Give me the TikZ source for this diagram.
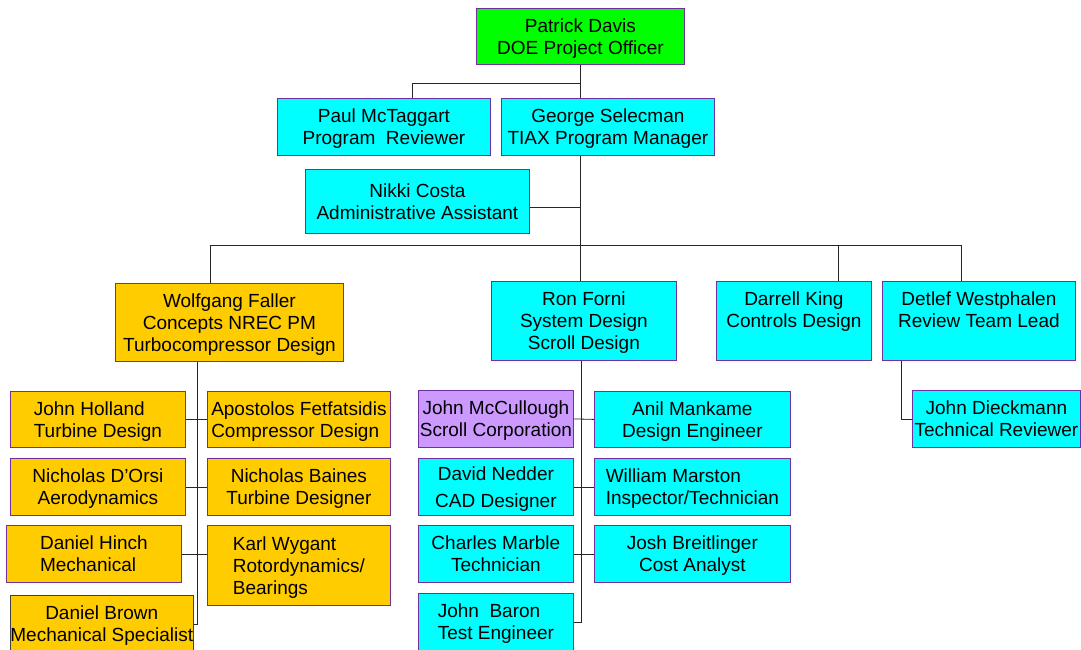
\documentclass[tikz,border=0pt]{standalone}
\usepackage{fontspec}
\setmainfont{Liberation Sans}
\definecolor{boxline}{RGB}{112,48,160}
\definecolor{doegreen}{RGB}{0,255,0}
\definecolor{tiaxcyan}{RGB}{0,255,255}
\definecolor{nrecgold}{RGB}{255,204,0}
\definecolor{scrollviolet}{RGB}{204,153,255}
\tikzset{
  orgbox/.style={draw=boxline, line width=0.8pt, inner sep=0pt, anchor=north west,
    align=center, font=\fontsize{19}{22}\selectfont, text depth=-4pt},
  doebox/.style={orgbox, fill=doegreen},
  tiaxbox/.style={orgbox, fill=tiaxcyan},
  nrecbox/.style={orgbox, fill=nrecgold},
  scrollbox/.style={orgbox, fill=scrollviolet},
  link/.style={draw=black!85, line width=0.8pt},
}
\begin{document}
\begin{tikzpicture}[x=1pt, y=-1pt]
    \useasboundingbox (0,0) rectangle (1081,650);
    % management
    \node[doebox, text depth=-8pt, minimum width=208pt, minimum height=56pt] (pd) at (476,8) {Patrick Davis\\DOE Project Officer};
    \node[tiaxbox, minimum width=213pt, minimum height=57pt] (pm) at (277,98) {Paul McTaggart\\Program\ \ Reviewer};
    \node[tiaxbox, minimum width=213pt, minimum height=57pt] (gs) at (501,98) {George Selecman\\TIAX Program Manager};
    \node[tiaxbox, minimum width=224pt, minimum height=64pt] (nc) at (305,169) {Nikki Costa\\Administrative Assistant};
    % team leads
    \node[nrecbox, minimum width=228pt, minimum height=78pt] (wf) at (115,283) {Wolfgang Faller\\Concepts NREC PM\\Turbocompressor Design};
    \node[tiaxbox, minimum width=185pt, minimum height=79pt] (rf) at (491,281) {Ron Forni\\System Design\\Scroll Design};
    \node[tiaxbox, minimum width=155pt, minimum height=79pt] (dk) at (716,281) {Darrell King\\Controls Design\\\mbox{}};
    \node[tiaxbox, minimum width=193pt, minimum height=79pt] (dw) at (882,281) {Detlef Westphalen\\Review Team Lead\\\mbox{}};
    % Concepts NREC group
    \node[nrecbox, align=left, minimum width=175pt, minimum height=56pt] (jh) at (10,391) {John Holland\\Turbine Design};
    \node[nrecbox, align=left, minimum width=183pt, minimum height=56pt] (af) at (207,391) {Apostolos Fetfatsidis\\Compressor Design};
    \node[nrecbox, minimum width=175pt, minimum height=57pt] (nd) at (10,458) {Nicholas D'Orsi\\Aerodynamics};
    \node[nrecbox, minimum width=183pt, minimum height=57pt] (nb) at (207,458) {Nicholas Baines\\Turbine Designer};
    \node[nrecbox, align=left, minimum width=175pt, minimum height=57pt] (dh) at (6,525) {Daniel Hinch\\Mechanical};
    \node[nrecbox, align=left, minimum width=183pt, minimum height=80pt] (kw) at (207,525) {Karl Wygant\\Rotordynamics/\\Bearings};
    \node[nrecbox, draw=black!75, minimum width=181pt, minimum height=57pt] (db) at (10,595) {Daniel Brown\\Mechanical Specialist};
    % TIAX group
    \node[scrollbox, minimum width=155pt, minimum height=57pt] (jm) at (418,390) {John McCullough\\Scroll Corporation};
    \node[tiaxbox, minimum width=196pt, minimum height=56pt] (am) at (594,391) {Anil Mankame\\Design Engineer};
    \node[tiaxbox, minimum width=155pt, minimum height=57pt] (dn) at (418,458) {David Nedder\\[5pt]CAD Designer};
    \node[tiaxbox, align=left, minimum width=196pt, minimum height=57pt] (wm) at (594,458) {William Marston\\Inspector/Technician};
    \node[tiaxbox, minimum width=155pt, minimum height=57pt] (cm) at (418,525) {Charles Marble\\Technician};
    \node[tiaxbox, minimum width=196pt, minimum height=57pt] (jbr) at (594,525) {Josh Breitlinger\\Cost Analyst};
    \node[tiaxbox, align=left, minimum width=155pt, minimum height=57pt] (jba) at (418,593) {John\ \ Baron\\Test Engineer};
    % review
    \node[tiaxbox, minimum width=168pt, minimum height=57pt] (jd) at (912,390) {John Dieckmann\\Technical Reviewer};
    % connectors
    \coordinate (trunk) at (580,83);
    \coordinate (bus) at (580,245);
    \coordinate (wfspine) at (197,0);
    \coordinate (rfspine) at (581,0);
    \draw[link] (pd.south) -- (pd.south |- gs.north);
    \draw[link] (trunk) -| ([xshift=28.5pt]pm.north);
    \draw[link] (gs.south -| bus) -- (bus);
    \draw[link] ([yshift=-6pt]nc.east) -- ([yshift=-6pt]nc.east -| bus);
    \draw[link] ([xshift=-19pt]wf.north) |- ([xshift=-17.5pt]dw.north |- bus) -- ([xshift=-17.5pt]dw.north);
    \draw[link] (bus) -- (bus |- rf.north);
    \draw[link] ([xshift=44.5pt]dk.north) -- ([xshift=44.5pt]dk.north |- bus);
    \draw[link] (wf.south -| wfspine) |- (db.east);
    \draw[link] (jh.east) -- (af.west);
    \draw[link] (nd.east) -- (nb.west);
    \draw[link] (dh.east) -- (dh.east -| kw.west);
    \draw[link] (rf.south -| rfspine) |- (jba.east);
    \draw[link] (jm.east) -- (am.west);
    \draw[link] (dn.east) -- (wm.west);
    \draw[link] (cm.east) -- (jbr.west);
    \draw[link] ([xshift=-77.5pt]dw.south) |- (jd.west);
\end{tikzpicture}
\end{document}
